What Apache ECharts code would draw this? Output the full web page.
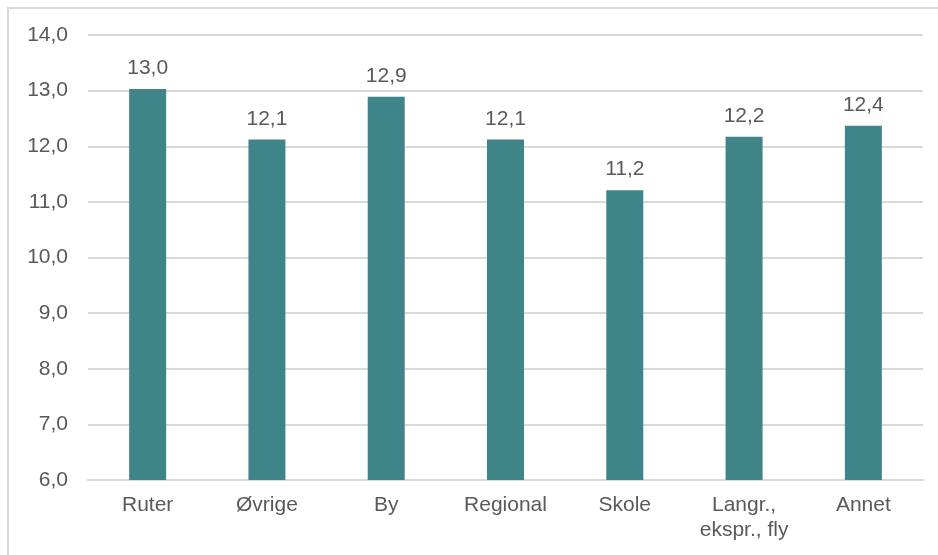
<!DOCTYPE html>
<html>
<head>
<meta charset="utf-8">
<script src="https://cdn.jsdelivr.net/npm/echarts@6/dist/echarts.min.js"></script>
<style>
html,body{margin:0;padding:0;background:#fff;}
#chart{width:938px;height:555px;}
</style>
</head>
<body>
<div id="chart"></div>
<script>
var categories = ['Ruter', 'Øvrige', 'By', 'Regional', 'Skole', 'Langr.,\nekspr., fly', 'Annet'];
var values = [13.03, 12.12, 12.89, 12.12, 11.21, 12.17, 12.37];
var yMin = 6, yMax = 14, yStep = 1;

function fmt(v) { return Number(v).toFixed(1).replace('.', ','); }

var chart = echarts.init(document.getElementById('chart'));
chart.setOption({
  animation: false,
  backgroundColor: '#ffffff',
  textStyle: { fontFamily: 'Liberation Sans, Arial, sans-serif' },
  graphic: [{
    type: 'rect',
    shape: { x: 8, y: 8, width: 1000, height: 1000 },
    style: { fill: 'none', stroke: '#d9d9d9', lineWidth: 2 },
    silent: true
  }],
  grid: { left: 88, right: 15, top: 35, bottom: 75, containLabel: false },
  xAxis: {
    type: 'category',
    data: categories,
    axisLine: { show: true, lineStyle: { color: '#d9d9d9', width: 2 } },
    axisTick: { show: false },
    axisLabel: { color: '#595959', fontSize: 21, margin: 13, lineHeight: 25, interval: 0,
      fontFamily: 'Liberation Sans, Arial, sans-serif' }
  },
  yAxis: {
    type: 'value',
    min: yMin, max: yMax, interval: yStep,
    axisLine: { show: false },
    axisTick: { show: false },
    splitLine: { lineStyle: { color: '#d9d9d9', width: 2 } },
    axisLabel: { color: '#595959', fontSize: 21, margin: 20, formatter: fmt,
      fontFamily: 'Liberation Sans, Arial, sans-serif' }
  },
  series: [{
    type: 'bar',
    data: values,
    barWidth: '31%',
    itemStyle: { color: '#3f8489' },
    label: {
      show: true, position: 'top', distance: 10,
      color: '#595959', fontSize: 21, formatter: function (p) { return fmt(p.value); },
      fontFamily: 'Liberation Sans, Arial, sans-serif'
    }
  }]
});
</script>
</body>
</html>
